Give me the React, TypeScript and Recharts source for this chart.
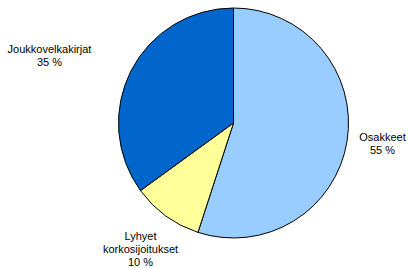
import { PieChart, Pie, Cell } from 'recharts';

const categories = ['Osakkeet', 'Lyhyet korkosijoitukset', 'Joukkovelkakirjat'];
const labelLines = [['Osakkeet'], ['Lyhyet', 'korkosijoitukset'], ['Joukkovelkakirjat']];
const shares = [55, 10, 35];
const colors = ['#99CCFF', '#FFFF99', '#0066CC'];

// label box centres relative to pie centre
const labelOffsets = [
  [149, 20],
  [-93, 126],
  [-184, -68],
];

const data = categories.map((name, i) => ({ name, value: shares[i] }));

const renderLabel = (props: any) => {
  const { cx, cy, index, value } = props;
  const lines = [...labelLines[index], `${value} %`];
  const [dx, dy] = labelOffsets[index];
  const lh = 13;
  const top = cy + dy - ((lines.length - 1) * lh) / 2;
  return (
    <text
      key={`lbl-${index}`}
      x={cx + dx}
      y={top}
      textAnchor="middle"
      dominantBaseline="central"
      fontFamily="'Liberation Sans', Arial, sans-serif"
      fontSize={11}
      fill="#000"
    >
      {lines.map((l, j) => (
        <tspan key={j} x={cx + dx} y={top + j * lh}>
          {l}
        </tspan>
      ))}
    </text>
  );
};

export default function App() {
  return (
    <div style={{ position: 'absolute', left: 0, top: 0, background: '#fff' }}>
      <PieChart width={408} height={268} margin={{ top: 0, right: 0, bottom: 0, left: 0 }}>
        <Pie
          data={data}
          dataKey="value"
          nameKey="name"
          cx={233.5}
          cy={123}
          outerRadius={115}
          startAngle={90}
          endAngle={-270}
          stroke="#000"
          strokeWidth={1}
          label={renderLabel}
          labelLine={false}
          isAnimationActive={false}
        >
          {data.map((d, i) => (
            <Cell key={d.name} fill={colors[i]} />
          ))}
        </Pie>
      </PieChart>
    </div>
  );
}
